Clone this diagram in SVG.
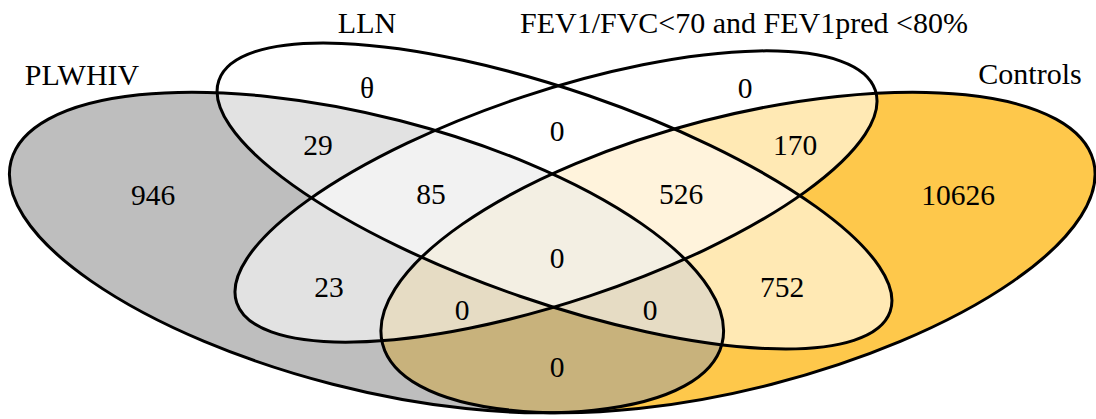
<svg xmlns="http://www.w3.org/2000/svg" xmlns:xlink="http://www.w3.org/1999/xlink" width="1096" height="419" viewBox="0 0 1096 419">
<style>
.lbl{font-family:"Liberation Serif","Times New Roman",serif;font-size:30px;fill:#000;text-anchor:middle;}
.num{font-family:"Liberation Serif","Times New Roman",serif;font-size:29.5px;fill:#000;text-anchor:middle;}
.out{fill:none;stroke:#000;stroke-width:3;}
</style>
<defs>
<ellipse id="eA" cx="0" cy="0" rx="367" ry="136" transform="translate(366.5 252.5) rotate(14.4)"/>
<ellipse id="eB" cx="0" cy="0" rx="355" ry="106" transform="translate(554.5 196) rotate(19)"/>
<ellipse id="eC" cx="0" cy="0" rx="336.5" ry="105" transform="translate(556 196.5) rotate(-18.4)"/>
<ellipse id="eD" cx="0" cy="0" rx="367" ry="136" transform="translate(738 252.5) rotate(-14.4)"/>
<clipPath id="cA"><use href="#eA" xlink:href="#eA"/></clipPath>
<clipPath id="cB"><use href="#eB" xlink:href="#eB"/></clipPath>
<clipPath id="cC"><use href="#eC" xlink:href="#eC"/></clipPath>
<clipPath id="cD"><use href="#eD" xlink:href="#eD"/></clipPath>
</defs>
<rect width="1096" height="419" fill="#fff"/>
<g id="regions">
<use href="#eA" fill="#bebebe"/>
<use href="#eD" fill="#fec84b"/>
<use href="#eD" fill="#c8b27c" clip-path="url(#cA)"/>
<use href="#eB" fill="#fff"/>
<use href="#eC" fill="#fff"/>
<use href="#eB" fill="#e2e2e2" clip-path="url(#cA)"/>
<use href="#eC" fill="#e2e2e2" clip-path="url(#cA)"/>
<use href="#eB" fill="#ffe9b4" clip-path="url(#cD)"/>
<use href="#eC" fill="#ffe9b4" clip-path="url(#cD)"/>
<g clip-path="url(#cA)"><use href="#eB" fill="#f2f2f2" clip-path="url(#cC)"/></g>
<g clip-path="url(#cD)"><use href="#eB" fill="#fff3dc" clip-path="url(#cC)"/></g>
<g clip-path="url(#cA)"><use href="#eB" fill="#e6dcc4" clip-path="url(#cD)"/></g>
<g clip-path="url(#cA)"><use href="#eC" fill="#e6dcc4" clip-path="url(#cD)"/></g>
<g clip-path="url(#cA)"><g clip-path="url(#cD)"><use href="#eB" fill="#f3efe3" clip-path="url(#cC)"/></g></g>
</g>
<g id="set-PLWHIV">
<use href="#eA" class="out"/>
<text class="lbl" x="82" y="85">PLWHIV</text>
</g>
<g id="set-LLN">
<use href="#eB" class="out"/>
<text class="lbl" x="367" y="33">LLN</text>
</g>
<g id="set-FEV1">
<use href="#eC" class="out"/>
<text class="lbl" x="744" y="33">FEV1/FVC&lt;70 and FEV1pred &lt;80%</text>
</g>
<g id="set-Controls">
<use href="#eD" class="out"/>
<text class="lbl" x="1030" y="84">Controls</text>
</g>
<g id="counts">
<text class="num" x="367" y="98">θ</text>
<text class="num" x="557" y="141">0</text>
<text class="num" x="745" y="98">0</text>
<text class="num" x="318" y="155">29</text>
<text class="num" x="795" y="155">170</text>
<text class="num" x="153" y="205">946</text>
<text class="num" x="431" y="204">85</text>
<text class="num" x="681" y="204">526</text>
<text class="num" x="958" y="205">10626</text>
<text class="num" x="557" y="268">0</text>
<text class="num" x="329" y="297">23</text>
<text class="num" x="782" y="297">752</text>
<text class="num" x="462" y="320">0</text>
<text class="num" x="650" y="320">0</text>
<text class="num" x="557" y="377">0</text>
</g>
</svg>
